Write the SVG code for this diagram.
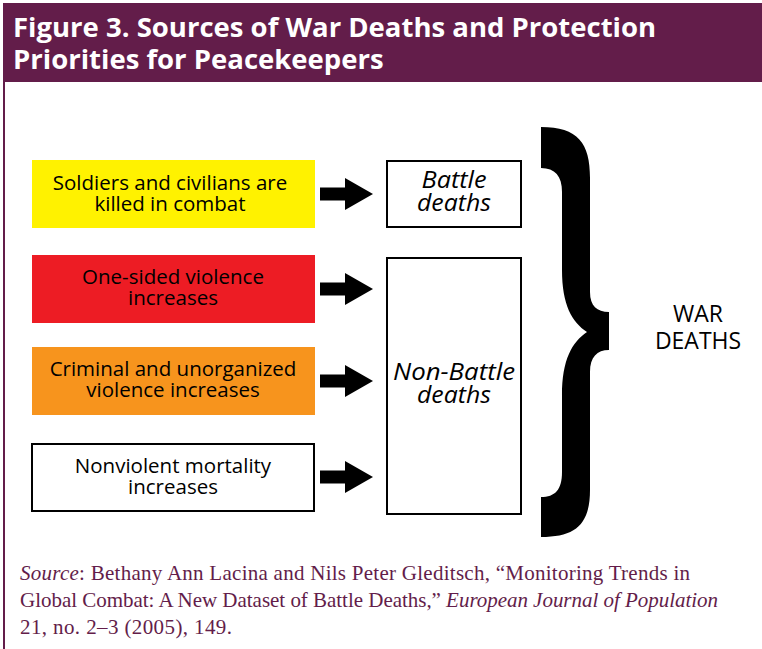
<svg xmlns="http://www.w3.org/2000/svg" width="762" height="649" viewBox="0 0 762 649">
<style>
.title{font-family:"Open Sans","Liberation Sans",sans-serif;font-weight:bold;font-size:27.5px;fill:#ffffff}
.lbl{font-family:"Open Sans","Liberation Sans",sans-serif;font-size:20.5px;fill:#000;text-anchor:middle}
.it{font-family:"Open Sans","Liberation Sans",sans-serif;font-size:23px;font-style:italic;fill:#000;text-anchor:middle}
.war{font-family:"Open Sans","Liberation Sans",sans-serif;font-size:23px;fill:#000;text-anchor:middle}
.src{font-family:"Liberation Serif","DejaVu Serif",serif;font-size:21px;fill:#631d4a}
.box{stroke:#000;stroke-width:2;fill:#fff}
</style>
<defs>
<path id="arr" d="M0,-6.5 L25,-6.5 L25,-16 L53,0 L25,16 L25,6.5 L0,6.5 Z" fill="#000"/>
</defs>
<rect x="0" y="0" width="762" height="649" fill="#fff"/>
<g id="header">
<rect x="3" y="3" width="759" height="79" fill="#631d4a"/>
<text class="title" x="13" y="37">Figure 3. Sources of War Deaths and Protection</text>
<text class="title" x="13" y="69">Priorities for Peacekeepers</text>
</g>
<line x1="4" y1="82" x2="4" y2="649" stroke="#631d4a" stroke-width="2"/>
<g id="n1">
<rect x="32" y="160" width="283" height="68" fill="#fff200"/>
<text class="lbl" x="170" y="190">Soldiers and civilians are</text>
<text class="lbl" x="170" y="211">killed in combat</text>
</g>
<g id="n2">
<rect x="32" y="255" width="283" height="68" fill="#ed1c24"/>
<text class="lbl" x="173" y="284">One-sided violence</text>
<text class="lbl" x="173" y="305">increases</text>
</g>
<g id="n3">
<rect x="32" y="347" width="283" height="68" fill="#f7941d"/>
<text class="lbl" x="173" y="376">Criminal and unorganized</text>
<text class="lbl" x="173" y="397">violence increases</text>
</g>
<g id="n4">
<rect x="32" y="444" width="282" height="67" class="box"/>
<text class="lbl" x="173" y="473">Nonviolent mortality</text>
<text class="lbl" x="173" y="494">increases</text>
</g>
<g id="battle">
<rect x="387" y="161" width="134" height="66" class="box"/>
<text class="it" x="454" y="188" textLength="65" lengthAdjust="spacingAndGlyphs">Battle</text>
<text class="it" x="454" y="211" textLength="74" lengthAdjust="spacingAndGlyphs">deaths</text>
</g>
<g id="nonbattle">
<rect x="387" y="258" width="134" height="256" class="box"/>
<text class="it" x="454" y="380" textLength="122" lengthAdjust="spacingAndGlyphs">Non-Battle</text>
<text class="it" x="454" y="403" textLength="74" lengthAdjust="spacingAndGlyphs">deaths</text>
</g>
<g id="wardeaths">
<path d="M541,127 C578,127 590,143 590,178 L590,292 C590,306 597,312 609,312 L609,350 C597,350 590,357 590,372 L590,490 C590,524 576,537 541,537 L541,497 C555,497 562,490 562,472 L562,395 C562,360 572,342 587,332 C572,322 562,305 562,270 L562,192 C562,176 555,168 541,168 Z" fill="#000"/>
<text class="war" x="698" y="322">WAR</text>
<text class="war" x="698" y="349">DEATHS</text>
</g>
<g id="connectors">
<use href="#arr" x="320" y="194"/>
<use href="#arr" x="320" y="289"/>
<use href="#arr" x="320" y="381"/>
<use href="#arr" x="320" y="477"/>
</g>
<g id="source">
<text class="src" x="20" y="580" textLength="670"><tspan font-style="italic">Source</tspan>: Bethany Ann Lacina and Nils Peter Gleditsch, “Monitoring Trends in</text>
<text class="src" x="20" y="607" textLength="698">Global Combat: A New Dataset of Battle Deaths,” <tspan font-style="italic">European Journal of Population</tspan></text>
<text class="src" x="20" y="634" textLength="212">21, no. 2–3 (2005), 149.</text>
</g>
</svg>
